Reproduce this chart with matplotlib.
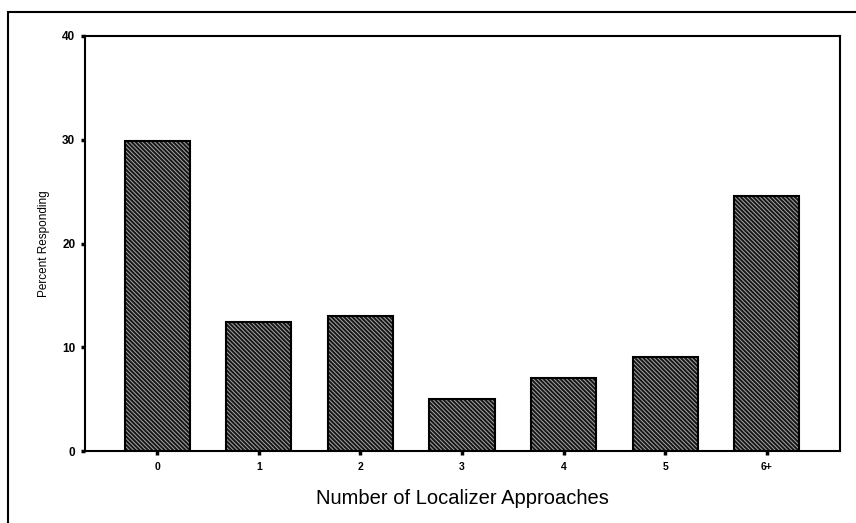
import matplotlib
matplotlib.use("Agg")
import matplotlib.pyplot as plt
from matplotlib.patches import Rectangle

# data
categories = ["0", "1", "2", "3", "4", "5", "6+"]
percent = [29.9, 12.4, 13.0, 5.0, 7.05, 9.1, 24.6]
yticks = [0, 10, 20, 30, 40]

plt.rcParams['font.family'] = ['Liberation Sans', 'DejaVu Sans']
plt.rcParams['hatch.linewidth'] = 0.7

fig = plt.figure(figsize=(8.56, 5.23), dpi=100)
ax = fig.add_axes([85/856, 1 - 451/523, (840-85)/856, (451-36)/523])

xs = list(range(len(categories)))
ax.bar(xs, percent, width=0.64, color='#161616', edgecolor='black', linewidth=0, zorder=2)
ax.bar(xs, percent, width=0.64, color='none', edgecolor='#a8a8a8', hatch='\\' * 8,
       linewidth=0, zorder=3)
ax.bar(xs, percent, width=0.64, color='none', edgecolor='black', linewidth=1.5, zorder=4)

ax.set_xlim(-0.71, 6.72)
ax.set_ylim(0, 40)
ax.set_xticks(xs)
ax.set_xticklabels(categories, fontsize=7.5, fontweight='bold')
ax.set_yticks(yticks)
ax.set_yticklabels([str(t) for t in yticks], fontsize=8.5, fontweight='bold')
ax.tick_params(axis='both', length=3, width=2.5, direction='out', pad=4)
ax.tick_params(axis='x', pad=5)
for s in ax.spines.values():
    s.set_linewidth(1.5)

ax.set_ylabel("Percent Responding", fontsize=8.5, labelpad=9)
ax.set_xlabel("Number of Localizer Approaches", fontsize=14.5, labelpad=12)

# outer frame of the scanned page
fig.patches.append(Rectangle((8/856, -0.05), 1.0, 1 - 12/523 + 0.05,
                             transform=fig.transFigure, fill=False,
                             edgecolor='black', linewidth=1.5))

fig.savefig("out.png", dpi=100)
